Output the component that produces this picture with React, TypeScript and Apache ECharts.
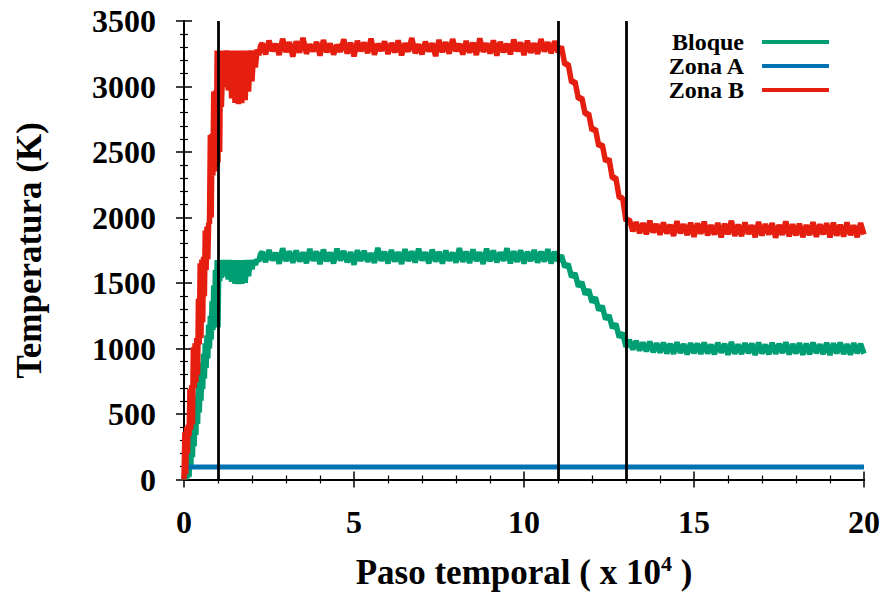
import React, { useEffect, useRef } from "react";
import * as echarts from "echarts";

// ---------- data ----------
const seriesNames = ["Bloque", "Zona A", "Zona B"];
const seriesColors = ["#009e73", "#0072b2", "#e51e10"];
const xTicks = [0, 5, 10, 15, 20];
const yTicks = [0, 500, 1000, 1500, 2000, 2500, 3000, 3500];
const phaseBoundaries = [1, 11, 13];

// early part (ramp + oscillating region), [paso (x10^4), T (K)]
const bloqueEarly = [
  [0, 0], [0.025, 60], [0.05, 0], [0.075, 130], [0.1, 10], [0.125, 210], [0.15, 20], [0.175, 300],
  [0.2, 85], [0.225, 380], [0.25, 170], [0.275, 470], [0.3, 255], [0.325, 550], [0.35, 340], [0.375, 640],
  [0.4, 425], [0.425, 730], [0.45, 510], [0.475, 810], [0.5, 600], [0.525, 890], [0.55, 690], [0.575, 960],
  [0.6, 770], [0.625, 1040], [0.65, 850], [0.675, 1100], [0.7, 925], [0.725, 1180], [0.75, 1000], [0.775, 1250],
  [0.8, 1070], [0.825, 1360], [0.85, 1140], [0.875, 1480], [0.9, 1215], [0.925, 1600], [0.95, 1170], [0.975, 1675],
  [1.0, 1160], [1.025, 1675], [1.05, 1515], [1.075, 1675], [1.1, 1540],
  [1.15, 1675], [1.2, 1552], [1.25, 1675], [1.3, 1526], [1.35, 1675], [1.4, 1510], [1.45, 1675], [1.5, 1494],
  [1.55, 1675], [1.6, 1492], [1.65, 1675], [1.7, 1494], [1.75, 1675], [1.8, 1502], [1.85, 1675], [1.9, 1552],
  [1.95, 1675], [2.0, 1604], [2.05, 1675], [2.1, 1638], [2.15, 1682], [2.2, 1665], [2.25, 1720],
];

const zonaBEarly = [
  [0, 0], [0.025, 360], [0.05, 40], [0.075, 400], [0.1, 200], [0.125, 420], [0.15, 330], [0.175, 690],
  [0.2, 380], [0.225, 720], [0.25, 420], [0.275, 1010], [0.3, 700], [0.325, 1040], [0.35, 740], [0.375, 1080],
  [0.4, 800], [0.425, 1380], [0.45, 1030], [0.475, 1650], [0.5, 1080], [0.525, 1680], [0.55, 1200], [0.575, 1700],
  [0.6, 1400], [0.625, 1900], [0.65, 1600], [0.675, 1930], [0.7, 1680], [0.725, 1960], [0.75, 1950], [0.775, 2630],
  [0.8, 2000], [0.825, 2640], [0.85, 2320], [0.875, 2960], [0.9, 2350], [0.925, 2970], [0.95, 2380], [0.975, 3275],
  [1.0, 2420], [1.025, 3275], [1.05, 2500], [1.075, 3275], [1.1, 2845],
  [1.15, 3275], [1.2, 2995], [1.25, 3275], [1.3, 2970], [1.35, 3275], [1.4, 2910], [1.45, 3275], [1.5, 2875],
  [1.55, 3275], [1.6, 2865], [1.65, 3275], [1.7, 2872], [1.75, 3275], [1.8, 2895], [1.85, 3275], [1.9, 2960],
  [1.95, 3275], [2.0, 3040], [2.05, 3275], [2.1, 3145], [2.15, 3282], [2.2, 3238], [2.25, 3310],
];

// later part, sampled every 0.1 from x = 2.3 to 20.0
const lateStart = 2.3;
const lateStep = 0.1;

const bloqueLate = [
  1738, 1660, 1752, 1672, 1730, 1648, 1765, 1668, 1742, 1655,
  1748, 1664, 1734, 1652, 1760, 1670, 1740, 1645, 1755, 1666,
  1732, 1650, 1762, 1672, 1744, 1658, 1736, 1640, 1750, 1668,
  1745, 1662, 1728, 1654, 1768, 1670, 1738, 1650, 1752, 1664,
  1736, 1646, 1758, 1668, 1742, 1656, 1762, 1672, 1734, 1650,
  1755, 1664, 1738, 1648, 1748, 1670, 1732, 1655, 1766, 1662,
  1740, 1652, 1756, 1668, 1735, 1645, 1762, 1666, 1748, 1658,
  1734, 1670, 1765, 1650, 1742, 1662, 1750, 1648, 1738, 1668,
  1752, 1656, 1740, 1664, 1758, 1650, 1738, 1668, 1712, 1622,
  1645, 1545, 1575, 1472, 1508, 1412, 1450, 1352, 1390, 1292,
  1325, 1222, 1255, 1156, 1190, 1086, 1120, 1012, 1065, 992,
  1058, 985, 1046, 978, 1052, 972, 1040, 968, 1045, 962,
  1036, 960, 1048, 966, 1034, 955, 1042, 964, 1038, 958,
  1046, 962, 1030, 956, 1044, 968, 1036, 952, 1050, 960,
  1032, 958, 1042, 964, 1038, 950, 1046, 962, 1030, 956,
  1044, 960, 1036, 966, 1048, 954, 1034, 962, 1042, 952,
  1038, 956, 1046, 964, 1032, 958, 1044, 950, 1040, 962,
  1046, 958, 1034, 952, 1042, 964, 1036, 960,
];

const zonaBLate = [
  3330, 3245, 3350, 3270, 3325, 3240, 3365, 3262, 3338, 3228,
  3345, 3258, 3372, 3250, 3322, 3268, 3340, 3236, 3355, 3262,
  3328, 3244, 3318, 3266, 3360, 3252, 3334, 3230, 3348, 3270,
  3336, 3255, 3366, 3242, 3326, 3272, 3344, 3248, 3332, 3260,
  3352, 3238, 3330, 3266, 3370, 3254, 3322, 3246, 3342, 3268,
  3330, 3232, 3356, 3262, 3338, 3250, 3362, 3270, 3326, 3244,
  3348, 3258, 3334, 3240, 3368, 3264, 3330, 3252, 3352, 3236,
  3340, 3262, 3326, 3246, 3358, 3270, 3336, 3240, 3350, 3258,
  3330, 3248, 3362, 3266, 3338, 3254, 3346, 3262, 3305, 3168,
  3172, 3030, 3040, 2905, 2915, 2788, 2795, 2665, 2678, 2545,
  2558, 2428, 2448, 2300, 2305, 2152, 2150, 1975, 1985, 1895,
  1965, 1880, 1958, 1872, 1975, 1885, 1950, 1868, 1962, 1878,
  1945, 1860, 1972, 1880, 1948, 1866, 1960, 1852, 1955, 1876,
  1968, 1864, 1942, 1870, 1958, 1848, 1952, 1872, 1975, 1860,
  1946, 1858, 1962, 1874, 1940, 1850, 1966, 1862, 1950, 1870,
  1958, 1846, 1944, 1868, 1970, 1856, 1948, 1864, 1952, 1850,
  1942, 1866, 1964, 1852, 1948, 1872, 1956, 1848, 1960, 1862,
  1945, 1855, 1962, 1866, 1940, 1850, 1958, 1870,
];

const zonaA = [
  [0, 95], [20, 95],
];

// ---------- helpers ----------
const FONT = "'Liberation Serif', 'Times New Roman', serif";

function joinLate(early: number[][], late: number[]) {
  const out = early.map((p) => [p[0], p[1]]);
  late.forEach((v, i) => {
    out.push([Math.round((lateStart + i * lateStep) * 100) / 100, v]);
  });
  return out;
}

export default function App() {
  const ref = useRef<HTMLDivElement>(null);

  useEffect(() => {
    if (!ref.current) return;
    const chart = echarts.init(ref.current, null, { renderer: "svg" });

    const labelStyle = {
      fontFamily: FONT,
      fontWeight: "bold" as const,
      fontSize: 32,
      color: "#000",
      formatter: (v: number) => String(v),
    };
    const axisLine = { show: true, lineStyle: { color: "#000", width: 2 } };
    const axisTick = { show: true, inside: false, length: 8, lineStyle: { color: "#000", width: 1.5 } };
    const minorTick = { show: true, splitNumber: 5, length: 4, lineStyle: { color: "#000", width: 1.2 } };

    const xBase = {
      type: "value" as const,
      min: xTicks[0],
      max: xTicks[xTicks.length - 1],
      interval: xTicks[1] - xTicks[0],
      axisLine,
      axisTick,
      minorTick,
      splitLine: { show: false },
    };
    const yBase = {
      type: "value" as const,
      min: yTicks[0],
      max: yTicks[yTicks.length - 1],
      interval: yTicks[1] - yTicks[0],
      axisLine,
      axisTick,
      minorTick,
      splitLine: { show: false },
    };

    chart.setOption({
      animation: false,
      backgroundColor: "#fff",
      grid: { left: 184, right: 21, top: 21, bottom: 111, containLabel: false },
      legend: {
        data: seriesNames,
        orient: "vertical",
        right: 56,
        top: 30,
        align: "right",
        icon: "rect",
        itemWidth: 67,
        itemHeight: 4,
        itemGap: 0,
        padding: 0,
        textStyle: {
          fontFamily: FONT,
          fontWeight: "bold",
          fontSize: 24,
          color: "#000",
          lineHeight: 24,
          padding: [0, 13, 0, 0],
        },
      },
      xAxis: [
        {
          ...xBase,
          position: "bottom",
          axisLabel: { ...labelStyle, margin: 26 },
          name: "Paso temporal ( x 10{sup|4} )",
          nameLocation: "middle",
          nameGap: 73,
          nameTextStyle: {
            fontFamily: FONT,
            fontWeight: "bold",
            fontSize: 35,
            color: "#000",
            rich: {
              sup: { fontFamily: FONT, fontWeight: "bold", fontSize: 22, color: "#000", padding: [0, 0, 18, 0] },
            },
          },
        },
        { ...xBase, position: "top", axisLabel: { show: false } },
      ],
      yAxis: [
        {
          ...yBase,
          position: "left",
          axisLabel: { ...labelStyle, margin: 28 },
          name: "Temperatura (K)",
          nameLocation: "middle",
          nameRotate: 90,
          nameGap: 137,
          nameTextStyle: { fontFamily: FONT, fontWeight: "bold", fontSize: 35, color: "#000" },
        },
        { ...yBase, position: "right", axisLabel: { show: false } },
      ],
      series: [
        {
          name: seriesNames[0],
          type: "line",
          data: joinLate(bloqueEarly, bloqueLate),
          showSymbol: false,
          color: seriesColors[0],
          lineStyle: { width: 5.5, color: seriesColors[0], join: "bevel" },
          z: 2,
        },
        {
          name: seriesNames[1],
          type: "line",
          data: zonaA,
          showSymbol: false,
          color: seriesColors[1],
          lineStyle: { width: 5, color: seriesColors[1] },
          z: 2,
        },
        {
          name: seriesNames[2],
          type: "line",
          data: joinLate(zonaBEarly, zonaBLate),
          showSymbol: false,
          color: seriesColors[2],
          lineStyle: { width: 5.5, color: seriesColors[2], join: "bevel" },
          z: 2,
        },
        {
          name: "fases",
          type: "line",
          data: [],
          z: 5,
          markLine: {
            silent: true,
            symbol: ["none", "none"],
            label: { show: false },
            lineStyle: { color: "#000", width: 2.8, type: "solid" },
            data: phaseBoundaries.map((v) => ({ xAxis: v })),
          },
        },
      ],
    });

    return () => chart.dispose();
  }, []);

  return (
    <div
      ref={ref}
      style={{ position: "fixed", left: 0, top: 0, width: 885, height: 595, background: "#fff" }}
    />
  );
}
